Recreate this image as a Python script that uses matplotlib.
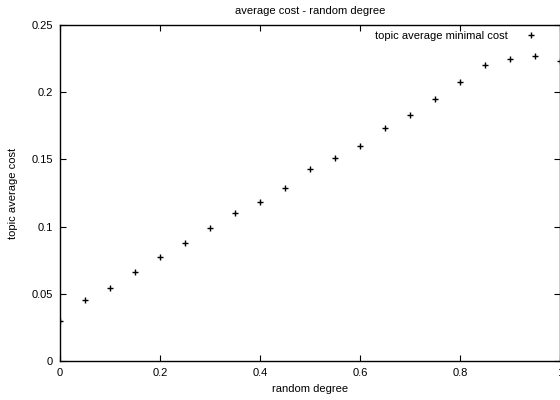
import matplotlib
matplotlib.use('Agg')
import matplotlib.pyplot as plt

# random degree vs topic average minimal cost
degree = [0.0, 0.05, 0.1, 0.15, 0.2, 0.25, 0.3, 0.35, 0.4, 0.45, 0.5,
          0.55, 0.6, 0.65, 0.7, 0.75, 0.8, 0.85, 0.9, 0.95, 1.0]
cost = [0.030, 0.0454, 0.0545, 0.0665, 0.0776, 0.088, 0.0992, 0.1099, 0.1185,
        0.1285, 0.1426, 0.151, 0.1602, 0.1731, 0.1828, 0.1949, 0.2073,
        0.2202, 0.2247, 0.2267, 0.2232]
xticks = [0, 0.2, 0.4, 0.6, 0.8, 1]
yticks = [0, 0.05, 0.1, 0.15, 0.2, 0.25]
xtick_labels = ['0', '0.2', '0.4', '0.6', '0.8', '1']
ytick_labels = ['0', '0.05', '0.1', '0.15', '0.2', '0.25']

plt.rcParams['font.family'] = ['Liberation Sans', 'DejaVu Sans']
plt.rcParams['font.size'] = 8

fig = plt.figure(figsize=(5.6, 4.0), dpi=100)
ax = fig.add_axes([60 / 560, 1 - 361 / 400, 500 / 560, 336 / 400])

ax.plot(degree, cost, linestyle='none', marker='+', markersize=5,
        markeredgewidth=1.0, color='black', label='topic average minimal cost')

ax.set_xlim(0, 1)
ax.set_ylim(0, 0.25)
ax.set_xticks(xticks)
ax.set_xticklabels(xtick_labels)
ax.set_yticks(yticks)
ax.set_yticklabels(ytick_labels)
ax.tick_params(direction='in', length=4, width=0.8, top=True, right=True,
               labelsize=8, pad=5)
for s in ax.spines.values():
    s.set_linewidth(1.0)

ax.set_xlabel('random degree', labelpad=4)
ax.set_ylabel('topic average cost', labelpad=10)
ax.set_title('average cost - random degree', fontsize=8, pad=8)

# gnuplot-style key: text first, marker after it, no frame
ax.legend(loc='upper right', bbox_to_anchor=(0.953, 0.981), markerfirst=False,
          frameon=False, handlelength=1.0, handletextpad=1.6,
          borderaxespad=0, borderpad=0, fontsize=8)

fig.savefig('out.png', dpi=100)
